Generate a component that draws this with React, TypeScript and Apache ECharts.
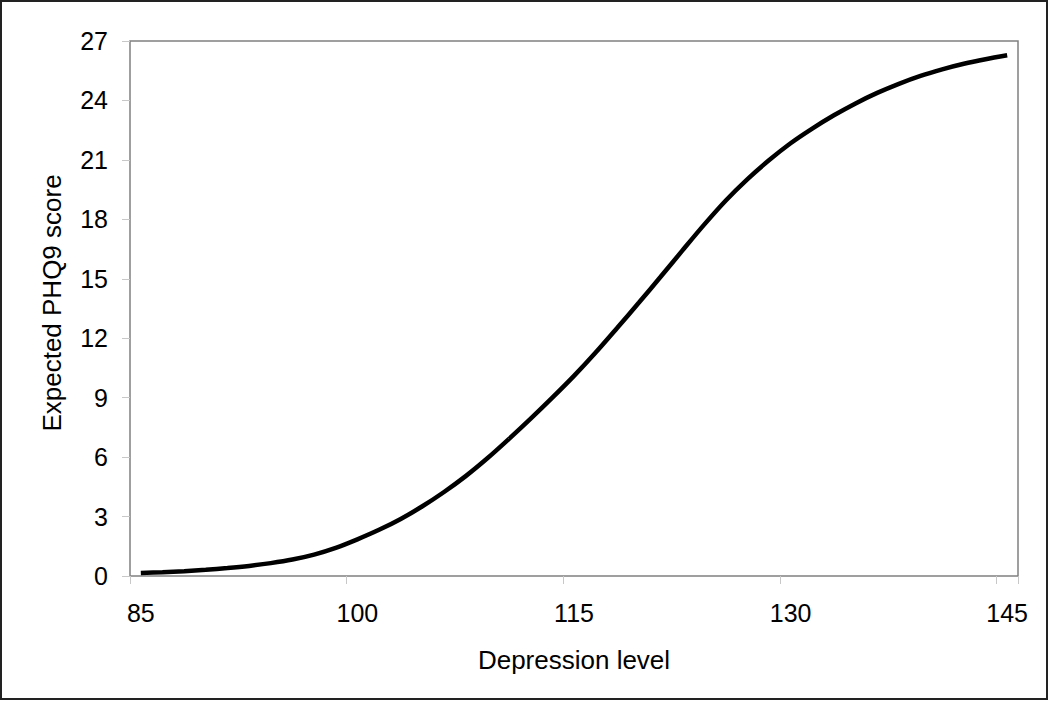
import React, { useEffect, useRef } from "react";
import * as echarts from "echarts";

const categories: string[] = [
  "85", "86.5", "88", "89.5", "91", "92.5", "94", "95.5", "97", "98.5",
  "100", "101.5", "103", "104.5", "106", "107.5", "109", "110.5", "112", "113.5",
  "115", "116.5", "118", "119.5", "121", "122.5", "124", "125.5", "127", "128.5",
  "130", "131.5", "133", "134.5", "136", "137.5", "139", "140.5", "142", "143.5",
  "145",
];

const expectedScore: number[] = [
  0.15, 0.19, 0.24, 0.31, 0.4, 0.51, 0.65, 0.83, 1.08, 1.42,
  1.85, 2.33, 2.88, 3.52, 4.24, 5.04, 5.94, 6.92, 7.94, 9.0,
  10.1, 11.28, 12.53, 13.8, 15.1, 16.42, 17.72, 18.94, 20.02, 20.98,
  21.84, 22.58, 23.25, 23.85, 24.38, 24.84, 25.24, 25.57, 25.85, 26.08,
  26.28,
];

const yTicks = { min: 0, max: 27, interval: 3 };
const xTitle = "Depression level";
const yTitle = "Expected PHQ9 score";

const FONT = "'Liberation Sans', Arial, sans-serif";

export default function App() {
  const ref = useRef<HTMLDivElement>(null);
  useEffect(() => {
    if (!ref.current) return;
    const chart = echarts.init(ref.current, undefined, { renderer: "svg" });
    chart.setOption({
      animation: false,
      backgroundColor: "#ffffff",
      grid: {
        left: 130,
        top: 41,
        right: 32,
        bottom: 127,
        show: true,
        borderColor: "#808080",
        borderWidth: 1.5,
        backgroundColor: "transparent",
      },
      xAxis: {
        type: "category",
        data: categories,
        boundaryGap: true,
        name: xTitle,
        nameLocation: "middle",
        nameGap: 71,
        nameTextStyle: { fontFamily: FONT, fontSize: 26, color: "#000" },
        axisLine: { show: false },
        axisTick: {
          show: true,
          interval: 9,
          alignWithLabel: false,
          length: 8,
          lineStyle: { color: "#c8c8c8", width: 1 },
        },
        axisLabel: {
          interval: 9,
          margin: 24,
          fontFamily: FONT,
          fontSize: 25,
          color: "#000",
        },
        splitLine: { show: false },
      },
      yAxis: {
        type: "value",
        min: yTicks.min,
        max: yTicks.max,
        interval: yTicks.interval,
        axisLine: { show: false },
        axisTick: {
          show: true,
          length: 8,
          lineStyle: { color: "#c8c8c8", width: 1 },
        },
        axisLabel: {
          margin: 22,
          fontFamily: FONT,
          fontSize: 25,
          color: "#000",
        },
        splitLine: { show: false },
      },
      graphic: [
        {
          type: "rect",
          shape: { x: 1, y: 1, width: 1046, height: 698 },
          style: { fill: "none", stroke: "#222", lineWidth: 2 },
          silent: true,
        },
        {
          type: "text",
          x: 52,
          y: 303,
          rotation: Math.PI / 2,
          style: {
            text: yTitle,
            fontFamily: FONT,
            fontSize: 26,
            fill: "#000",
            align: "center",
            verticalAlign: "middle",
          },
        },
      ],
      series: [
        {
          type: "line",
          data: expectedScore,
          symbol: "none",
          smooth: 0.3,
          lineStyle: { color: "#000", width: 4.5, cap: "butt" },
        },
      ],
    });
    return () => chart.dispose();
  }, []);
  return (
    <div
      ref={ref}
      style={{ position: "fixed", left: 0, top: 0, width: 1050, height: 703 }}
    />
  );
}
